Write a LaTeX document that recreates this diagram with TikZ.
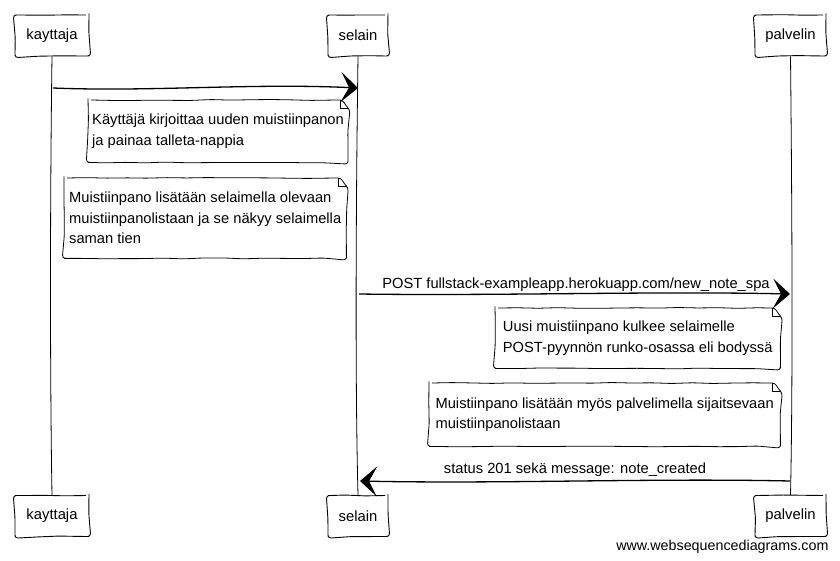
\documentclass[tikz,border=0pt]{standalone}
\usepackage{fontspec}
\setmainfont{Liberation Sans}
\usetikzlibrary{arrows.meta,calc,decorations.pathmorphing}

% note outline with a folded top-right corner
\newcommand\dogear[1]{%
  \draw[sketch,line width=0.8pt] (#1.north west) -- ($(#1.north east)+(-8,0)$)
    -- ($(#1.north east)+(0,8)$) -- (#1.south east) -- (#1.south west) -- cycle;
  \draw[line width=0.6pt] ($(#1.north east)+(-8,0)$) |- ($(#1.north east)+(0,8)$);}

\begin{document}
\begin{tikzpicture}[x=1pt,y=-1pt,
  sketch/.style={decorate,decoration={random steps,segment length=20pt,amplitude=0.5pt},rounded corners=3pt},
  actor/.style={draw,sketch,line width=0.9pt,minimum height=41pt,inner sep=0pt,
    font=\fontsize{14.8}{17}\selectfont},
  notebox/.style={anchor=north west,inner xsep=4pt,inner ysep=0pt,align=left,
    font=\fontsize{14.7}{20.5}\selectfont},
  msg/.style={line width=1.3pt,-{Stealth[length=17pt,width=30pt,inset=8pt]}},
  life/.style={line width=0.8pt},
  lbl/.style={font=\fontsize{14.7}{17}\selectfont}
]
\useasboundingbox (0,0) rectangle (840,561);

% participants, top and bottom
\node[actor,minimum width=74pt] (k1) at (52,35.5) {kayttaja};
\node[actor,minimum width=60pt] (s1) at (358,35.5) {selain};
\node[actor,minimum width=71pt] (p1) at (790.5,35.5) {palvelin};
\node[actor,minimum width=74pt] (k2) at (52,516) {kayttaja};
\node[actor,minimum width=60pt] (s2) at (358,516) {selain};
\node[actor,minimum width=71pt] (p2) at (790.5,516) {palvelin};

% lifelines
\draw[life] (k1.south) .. controls (50,200) and (50,380) .. (k2.north);
\draw[life] (s1.south) .. controls (356,200) and (355,380) .. (s2.north);
\draw[life] (p1.south) .. controls (792,200) and (793,380) .. (p2.north);

% message 1
\coordinate (m1a) at (53,88);
\coordinate (m1b) at (358,88);
\draw[msg] (m1a) .. controls (150,92) and (250,83) .. (m1b);

% notes beside selain
\node[notebox,minimum width=258pt,minimum height=62pt] (n1) at (88,100)
  {Käyttäjä kirjoittaa uuden muistiinpanon\\ja painaa talleta-nappia};
\dogear{n1}
\node[notebox,minimum width=282pt,minimum height=80pt] (n2) at (64,178)
  {Muistiinpano lisätään selaimella olevaan\\muistiinpanolistaan ja se näkyy selaimella\\saman tien};
\dogear{n2}

% message 2
\coordinate (m2a) at (359,294);
\coordinate (m2b) at (790,294);
\draw[msg] (m2a) .. controls (500,296) and (650,291) .. (m2b);
\node[lbl] (l2) at (576,285) {POST fullstack-exampleapp.herokuapp.com/new\_note\_spa};

% notes beside palvelin
\node[notebox,minimum width=285pt,minimum height=60pt] (n3) at (495,308)
  {Uusi muistiinpano kulkee selaimelle\\POST-pyynnön runko-osassa eli bodyssä};
\dogear{n3}
\node[notebox,minimum width=351pt,minimum height=63pt] (n4) at (429,383)
  {Muistiinpano lisätään myös palvelimella sijaitsevaan\\muistiinpanolistaan};
\dogear{n4}

% message 3
\coordinate (m3a) at (790,481);
\coordinate (m3b) at (360,481);
\draw[msg] (m3a) .. controls (650,478) and (500,484) .. (m3b);
\node[lbl] (l3) at (575,470) {status 201 sekä message: note\_created};

% footer
\node[font=\fontsize{14.3}{17}\selectfont,anchor=east] (web) at (832,547) {www.websequencediagrams.com};
\end{tikzpicture}
\end{document}
